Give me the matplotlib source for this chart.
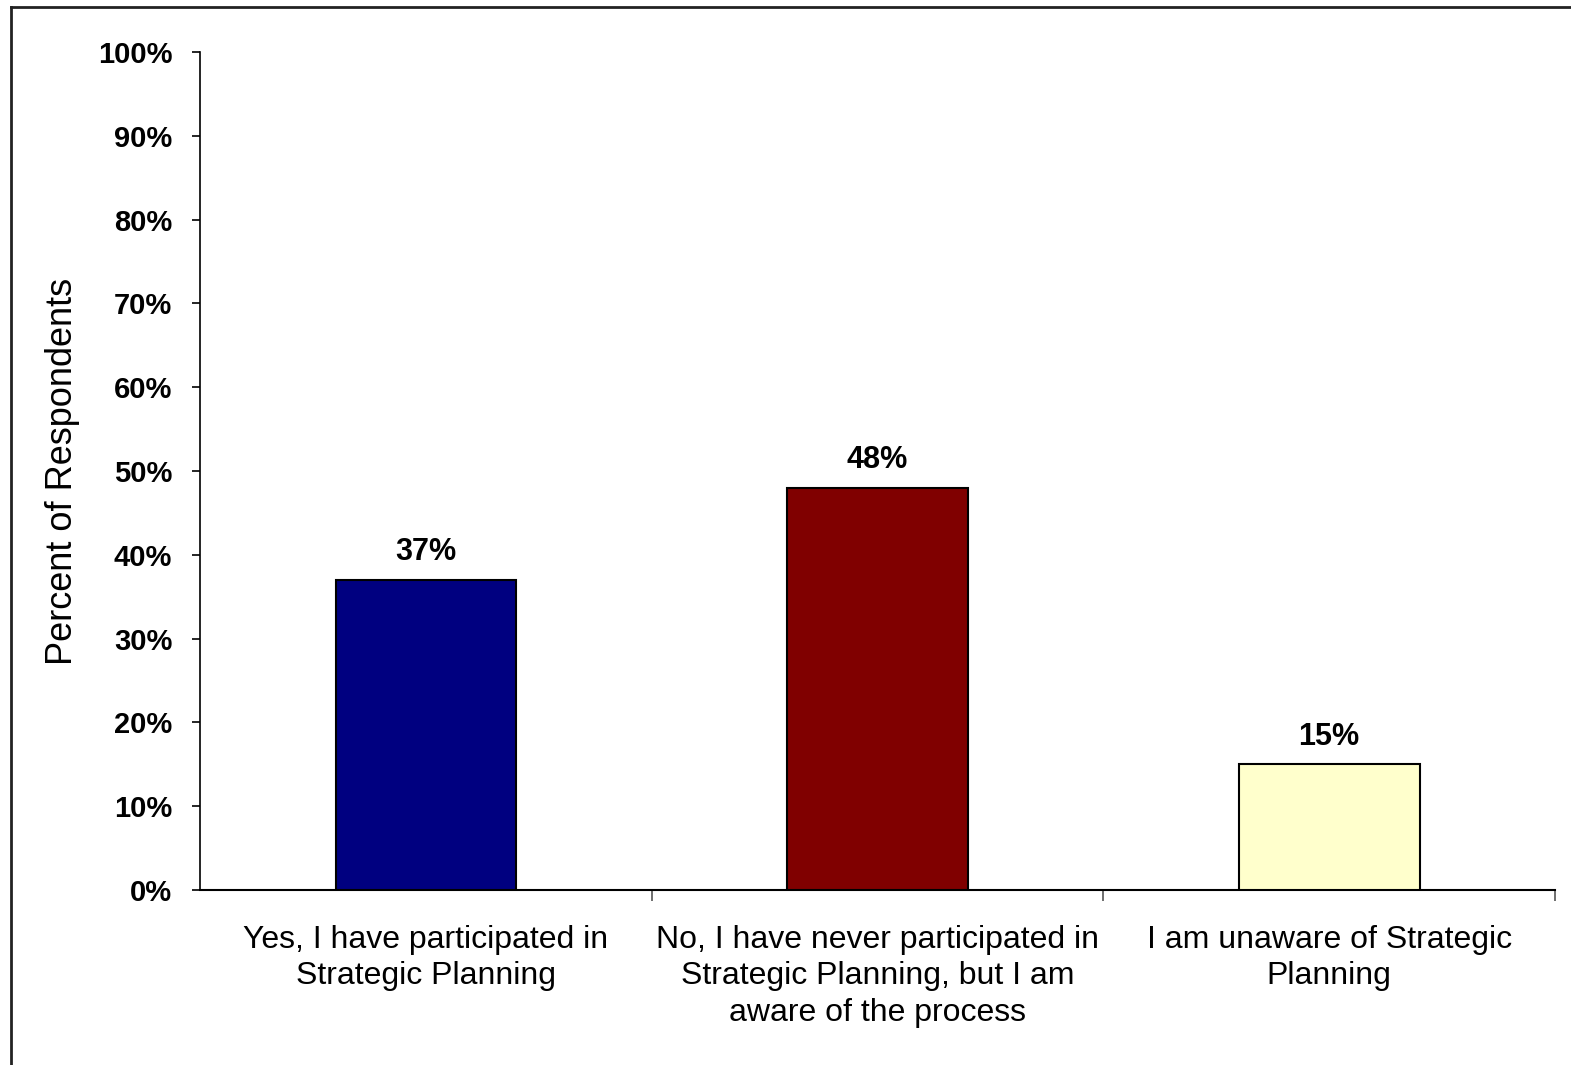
import matplotlib
matplotlib.use("Agg")
import matplotlib.pyplot as plt
from matplotlib.lines import Line2D

categories = ["Yes, I have participated in\nStrategic Planning",
              "No, I have never participated in\nStrategic Planning, but I am\naware of the process",
              "I am unaware of Strategic\nPlanning"]
values = [37, 48, 15]
colors = ["#000080", "#800000", "#FFFFCC"]
yticks = [0, 10, 20, 30, 40, 50, 60, 70, 80, 90, 100]
ytick_labels = [f"{v}%" for v in yticks]

plt.rcParams['font.family'] = ['Liberation Sans', 'DejaVu Sans']

W, H = 1571, 1065
fig = plt.figure(figsize=(W / 100, H / 100), dpi=100)
ax = fig.add_axes([200 / W, 1 - 890 / H, 1355 / W, (890 - 52) / H])

x = list(range(len(categories)))
ax.bar(x, values, width=0.4, color=colors, edgecolor="black", linewidth=1.5, zorder=3)
for xi, v in zip(x, values):
    ax.annotate(f"{v}%", (xi, v), xytext=(0, 9), textcoords="offset points",
                ha="center", va="bottom", fontsize=22, fontweight="bold")

ax.set_xlim(-0.5, 2.5)
ax.set_ylim(0, 100)
ax.set_yticks(yticks)
ax.set_yticklabels(ytick_labels, fontsize=21, fontweight="bold")
ax.tick_params(axis="y", direction="out", length=6, width=1.2, pad=14)

ax.set_xticks([0.5, 1.5, 2.5], minor=False)
ax.set_xticklabels([])
ax.tick_params(axis="x", which="major", direction="out", length=8, width=1.2, color="#555555")
ax.set_xticks(x, minor=True)
ax.set_xticklabels(categories, minor=True, fontsize=23, linespacing=1.28)
ax.tick_params(axis="x", which="minor", length=0, pad=25)

ax.set_ylabel("Percent of Respondents", fontsize=26, labelpad=13)

for s in ["top", "right"]:
    ax.spines[s].set_visible(False)
ax.spines["left"].set_linewidth(1.2)
ax.spines["bottom"].set_linewidth(1.5)

# outer frame (left and top edges)
fig.add_artist(Line2D([11 / W, 11 / W], [0, 1 - 7 / H], transform=fig.transFigure,
                      color="#222222", linewidth=2))
fig.add_artist(Line2D([11 / W, 1], [1 - 7 / H, 1 - 7 / H], transform=fig.transFigure,
                      color="#222222", linewidth=2))

fig.savefig("out.png", dpi=100)
